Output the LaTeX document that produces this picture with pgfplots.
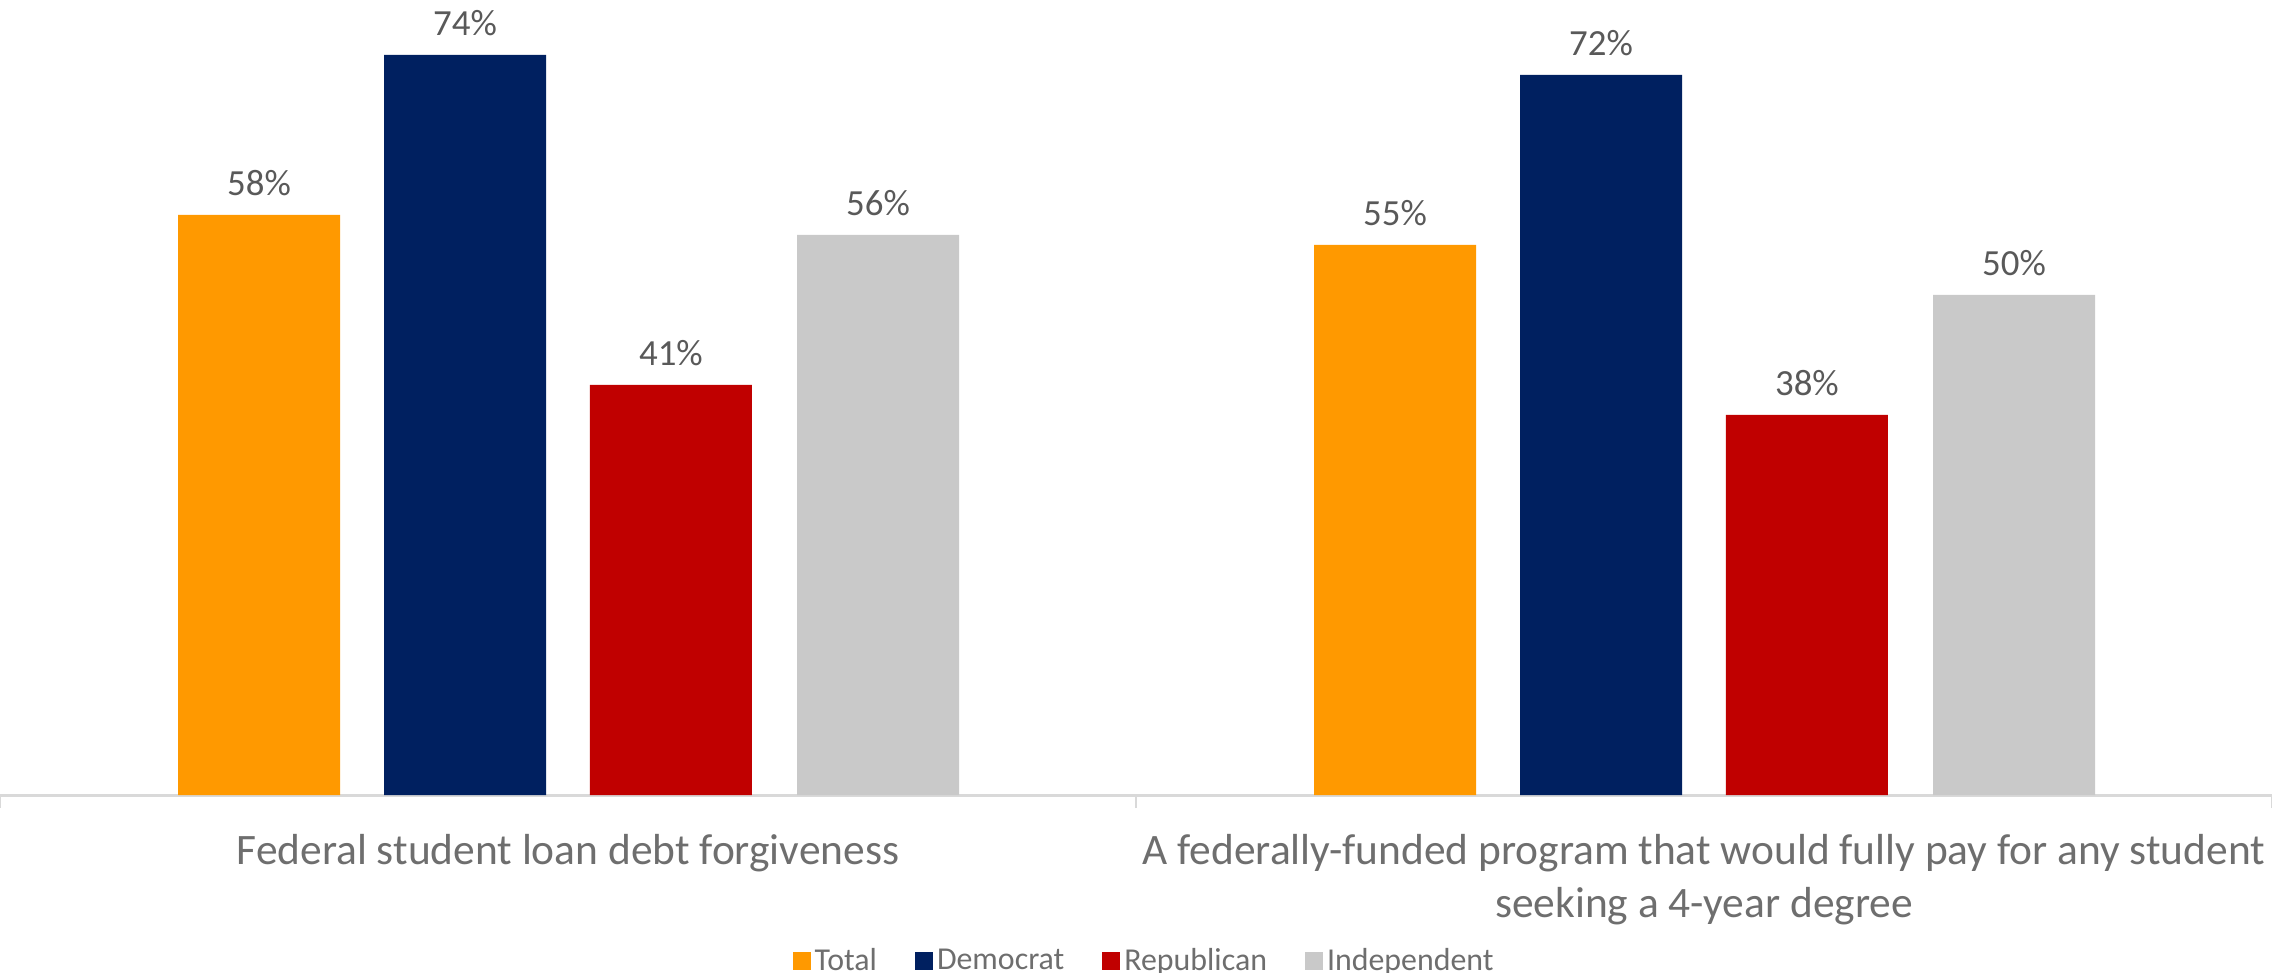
\documentclass[border=0pt]{standalone}
\usepackage{fontspec}
\setmainfont{Carlito}
\usepackage{pgfplots}
\pgfplotsset{compat=1.18}
\definecolor{cTotal}{HTML}{FF9900}
\definecolor{cDem}{HTML}{002060}
\definecolor{cRep}{HTML}{C00000}
\definecolor{cInd}{HTML}{C9C9C9}
\definecolor{lbltxt}{HTML}{595959}
\definecolor{cattxt}{HTML}{6E6E6E}
\definecolor{axisgray}{HTML}{D9D9D9}

\begin{document}
\begin{tikzpicture}
\begin{axis}[
    scale only axis,
    width=1136bp, height=397.5bp,
    xmin=-0.5, xmax=1.5, ymin=0, ymax=79.5,
    axis y line=none,
    axis x line*=bottom,
    axis line style={draw=axisgray, line width=1.5bp, -},
    ybar, bar width=0.1426,
    xtick={0,1},
    xticklabels={Federal student loan debt forgiveness,
        {A federally-funded program that would fully pay for any student\\seeking a 4-year degree}},
    xticklabel style={align=center, font=\fontsize{21.8}{26.5}\selectfont, text=cattxt, yshift=-12bp},
    xtick style={draw=none},
    extra x ticks={-0.5,0.5,1.5},
    extra x tick labels={},
    extra x tick style={xtick style={draw=axisgray, line width=1.2bp}, tick align=outside, major tick length=6.5bp},
    ytick=\empty,
    /pgf/number format/assume math mode=true,
    nodes near coords={\pgfmathprintnumber{\pgfplotspointmeta}\%},
    nodes near coords style={font=\fontsize{18.5}{22}\selectfont, text=lbltxt, yshift=6bp},
    legend style={at={(0.504,-0.2088)}, anchor=center, draw=none, fill=none,
        font=\fontsize{16}{19}\selectfont, text=cattxt,
        /tikz/every even column/.append style={column sep=17bp}},
    legend columns=4,
    legend image code/.code={\fill[#1] (0bp,-4.5bp) rectangle (9bp,4.5bp);},
]
\addplot[fill=cTotal, draw=none, bar shift=-0.272] coordinates {(0,58) (1,55)};
\addlegendentry{Total}
\addplot[fill=cDem, draw=none, bar shift=-0.0906] coordinates {(0,74) (1,72)};
\addlegendentry{Democrat}
\addplot[fill=cRep, draw=none, bar shift=0.0906] coordinates {(0,41) (1,38)};
\addlegendentry{Republican}
\addplot[fill=cInd, draw=none, bar shift=0.2729] coordinates {(0,56) (1,50)};
\addlegendentry{Independent}
\end{axis}
\pgfresetboundingbox
\path[use as bounding box] (current axis.south west) ++(0,-89bp) rectangle (current axis.north east);
\end{tikzpicture}
\end{document}
